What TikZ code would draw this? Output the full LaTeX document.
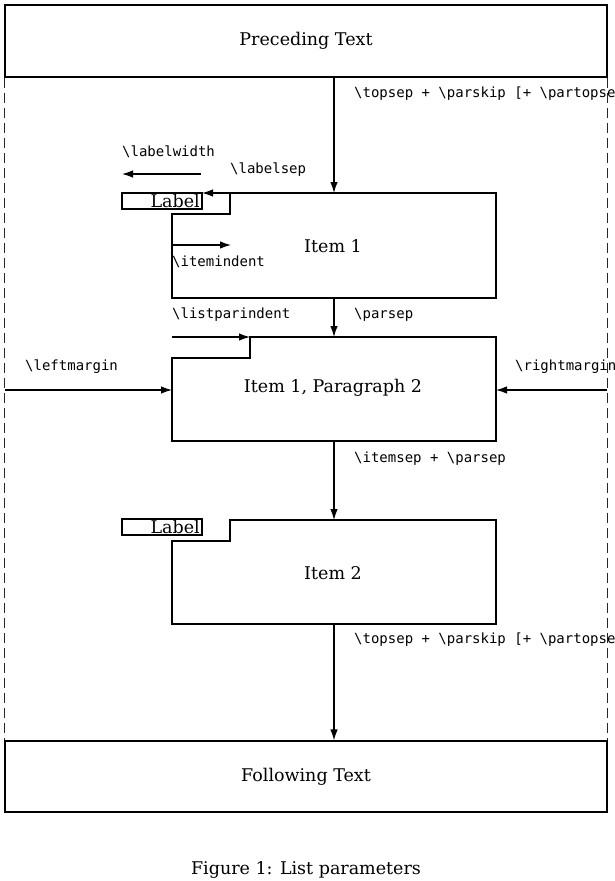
\documentclass[tikz,border=0pt]{standalone}
\usepackage{fontspec}
\setmainfont{DejaVu Serif}
\newfontfamily\monof{DejaVu Sans Mono}
\usetikzlibrary{arrows.meta}
\tikzset{
  ln/.style={line width=1.2pt, line join=miter},
  arr/.style={ln, -{Latex[length=11pt,width=7.5pt]}},
  frame/.style={line width=1.2pt, dash pattern=on 10pt off 5pt, draw=black!85},
  txt/.style={font=\fontsize{17.5}{21}\selectfont, inner sep=0pt},
  mono/.style={font=\monof\fontsize{14}{16}\selectfont, inner sep=0pt, anchor=base west},
  bigbox/.style={ln, draw, rectangle, minimum width=602pt, minimum height=72pt, inner sep=0pt, font=\fontsize{17.5}{21}\selectfont},
}
\begin{document}
\begin{tikzpicture}[x=1pt,y=-1pt]
\useasboundingbox (0,0) rectangle (614,881);
% outer boxes
\node[bigbox] (prec) at (306,41) {Preceding Text};
\node[bigbox, minimum height=71pt] (foll) at (306,776.5) {Following Text};
\draw[frame] (prec.south west) -- (foll.north west);
\draw[frame] (prec.south east) -- (foll.north east);
% coordinates on the centre line
\coordinate (i1t) at (334,193);
\coordinate (i1b) at (334,298);
\coordinate (p2t) at (334,337);
\coordinate (p2b) at (334,441);
\coordinate (i2t) at (334,520);
\coordinate (i2b) at (334,624);
% Item 1
\draw[ln] (230,193) -- (496,193) -- (496,298) -- (172,298) -- (172,214) -- (230,214) -- cycle;
\draw[ln] (122,193) rectangle (202,209);
\node[txt, anchor=base east] (lab1) at (200,207) {Label};
\coordinate (ls1) at (230,193);
\coordinate (ls2) at (202,193);
\draw[arr] (ls1) -- (ls2);
\node[txt] (item1) at (333,246) {Item 1};
% labelwidth
\coordinate (lw1) at (201,174);
\coordinate (lw2) at (122,174);
\draw[arr] (lw1) -- (lw2);
\node[mono] (tlw) at (122,156) {\textbackslash labelwidth};
\node[mono] (tls) at (230,173) {\textbackslash labelsep};
% itemindent
\coordinate (ii1) at (172,245);
\coordinate (ii2) at (231,245);
\draw[arr] (ii1) -- (ii2);
\node[mono] (tii) at (172,266) {\textbackslash itemindent};
% Item 1, Paragraph 2
\draw[ln] (250,337) -- (496,337) -- (496,441) -- (172,441) -- (172,358) -- (250,358) -- cycle;
\coordinate (lp1) at (172,337);
\coordinate (lp2) at (250,337);
\draw[arr] (lp1) -- (lp2);
\node[txt] (par2) at (333,388) {Item 1, Paragraph 2};
\node[mono] (tlp) at (172,318) {\textbackslash listparindent};
\node[mono] (tps) at (354,318) {\textbackslash parsep};
% margins
\coordinate (lm1) at (5,390);
\coordinate (lm2) at (172,390);
\coordinate (rm1) at (607,390);
\coordinate (rm2) at (496,390);
\draw[arr] (lm1) -- (lm2);
\draw[arr] (rm1) -- (rm2);
\node[mono] (tlm) at (25,370) {\textbackslash leftmargin};
\node[mono] (trm) at (515,370) {\textbackslash rightmargin};
% Item 2
\draw[ln] (230,520) -- (496,520) -- (496,624) -- (172,624) -- (172,541) -- (230,541) -- cycle;
\draw[ln] (122,519) rectangle (202,535);
\node[txt, anchor=base east] (lab2) at (200,533) {Label};
\node[txt] (item2) at (333,573) {Item 2};
% vertical spacing arrows
\draw[arr] (prec.south -| i1t) -- (i1t);
\draw[arr] (i1b) -- (p2t);
\draw[arr] (p2b) -- (i2t);
\draw[arr] (i2b) -- (foll.north -| i2b);
\node[mono] (tts1) at (354,97) {\textbackslash topsep + \textbackslash parskip [+ \textbackslash partopsep]};
\node[mono] (tis) at (354,462) {\textbackslash itemsep + \textbackslash parsep};
\node[mono] (tts2) at (354,643) {\textbackslash topsep + \textbackslash parskip [+ \textbackslash partopsep]};
% caption
\node[txt] (cap) at (306,870) {Figure 1: List parameters};
\end{tikzpicture}
\end{document}
